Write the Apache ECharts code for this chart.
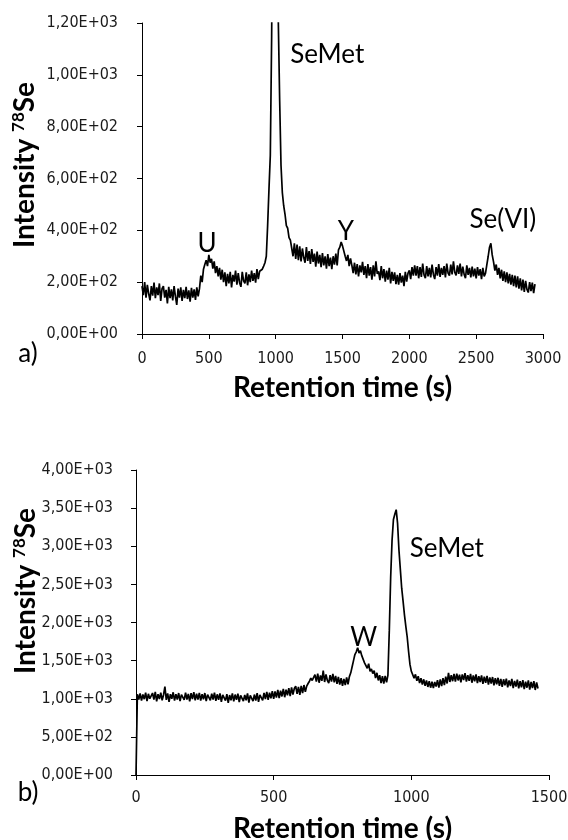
<!DOCTYPE html>
<html>
<head>
<meta charset="utf-8">
<script src="https://cdn.jsdelivr.net/npm/echarts@6/dist/echarts.min.js"></script>
<style>
html,body{margin:0;padding:0;background:#fff;}
#c{width:568px;height:840px;}
</style>
</head>
<body>
<div id="c"></div>
<script>
// ---------- Chart a) ----------
const stepA = 10;   // sampling interval (s)
const valuesA = [
  // 0-430 baseline
  185,150,200,140,190,155,130,185,148,198,
  138,180,150,195,128,175,185,140,170,118,
  182,138,172,130,185,145,112,175,140,180,
  128,170,138,182,135,168,125,178,140,172,
  132,180,145,175,
  // 440-600 peak U
  225,200,250,268,285,262,305,275,290,252,280,235,262,222,255,210,248,
  // 610-930
  200,238,185,232,195,240,180,228,202,245,
  190,235,198,182,240,205,195,238,188,230,
  200,245,205,235,198,250,212,242,238,250,
  262,275,300,
  // 940-1110 SeMet
  420,560,690,1150,1900,2500,2600,1700,1200,900,650,545,495,462,418,408,372,362,
  // 1120-1440 tail
  360,300,350,290,345,285,338,280,330,295,
  275,335,282,320,270,328,278,310,260,318,
  272,305,258,312,265,300,252,308,262,295,
  250,300,268,
  // 1450-1560 peak Y
  310,265,325,335,355,340,345,300,282,305,262,292,
  // 1570-1900
  265,235,275,230,270,222,265,238,278,228,
  262,215,270,225,258,210,265,222,280,232,
  242,208,262,215,250,202,245,210,255,195,
  240,205,238,192,
  // 1910-2040
  228,190,235,198,225,185,240,202,235,245,212,258,225,265,
  // 2050-2560
  225,262,215,258,220,272,228,215,262,222,
  255,218,268,230,212,258,225,270,220,255,
  228,262,218,272,235,225,268,230,280,238,
  226,265,232,272,222,260,230,215,265,228,
  255,218,260,222,252,215,258,225,250,212,
  255,222,
  // 2570-2660 Se(VI)
  235,268,300,335,350,305,278,245,268,228,
  // 2670-2940
  255,215,248,205,242,200,238,195,232,190,
  228,185,225,180,222,175,215,168,210,162,
  205,172,160,200,165,198,158,192
];
const yTickLabelsA = ['0,00E+00','2,00E+02','4,00E+02','6,00E+02','8,00E+02','1,00E+03','1,20E+03'];
const xTickLabelsA = ['0','500','1000','1500','2000','2500','3000'];
const annotationsA = [['U', 487, 347], ['SeMet', 1386, 1077], ['Y', 1526, 394], ['Se(VI)', 2700, 440]];

// ---------- Chart b) ----------
const stepB = 5;
const valuesB = [
  0,
  // 5-450 baseline
  1060,990,1070,975,1055,995,1080,970,1065,1000,
  985,1075,990,1090,965,1060,995,1080,980,1050,
  1160,985,1070,960,1060,1000,1085,975,1060,990,
  1075,970,1055,1070,985,1080,990,1062,965,1072,
  995,1085,980,1065,988,1078,975,1060,992,1075,
  968,1055,1070,980,1065,990,1080,972,1058,985,
  1070,960,1050,1065,975,1060,945,1048,980,1070,
  965,1055,985,1068,955,1045,1060,970,1050,980,
  1070,950,1045,1060,968,1055,975,1075,960,1050,
  // 455-630
  1065,980,1075,995,1090,985,1080,1005,1100,1000,
  1095,1015,1115,1010,1105,1030,1130,1020,1120,1045,
  1140,1035,1150,1055,1135,1165,1065,1155,1050,1170,
  1075,1180,1090,1165,1200,1230,
  // 635-775
  1270,1240,1255,1315,1225,1330,1210,1305,1235,1370,
  1220,1320,1240,1205,1310,1225,1325,1215,1300,1195,
  1285,1185,1270,1170,1260,1180,1280,1190,1290,
  // 780-915 peak W
  1340,1420,1500,1580,1615,1670,1600,1630,1565,1550,
  1470,1480,1400,1460,1360,1390,1330,1370,1270,1340,
  1240,1310,1205,1295,1200,1300,1215,1310,
  // 920-1000 SeMet
  1900,2600,3080,3350,3420,3480,3300,2950,2700,2450,2280,2100,1950,1810,1620,1450,1360,
  // 1005-1460
  1340,1270,1320,1235,1295,1205,1270,1185,1255,1170,
  1240,1155,1230,1145,1225,1140,1220,1160,1245,1145,
  1255,1165,1270,1180,1290,1200,1340,1220,1310,1230,
  1325,1225,1330,1240,1315,1215,1320,1245,1335,1225,
  1310,1235,1325,1210,1305,1230,1320,1205,1295,1220,
  1305,1195,1290,1210,1300,1185,1280,1200,1285,1175,
  1270,1190,1275,1170,1260,1155,1255,1175,1265,1150,
  1240,1165,1260,1140,1235,1160,1250,1135,1230,1150,
  1245,1125,1225,1145,1240,1120,1220,1140,1230,1115,
  1215,1135
];
const yTickLabelsB = ['0,00E+00','5,00E+02','1,00E+03','1,50E+03','2,00E+03','2,50E+03','3,00E+03','3,50E+03','4,00E+03'];
const xTickLabelsB = ['0','500','1000','1500'];
const annotationsB = [['W', 827, 1800], ['SeMet', 1129, 2975]];

const xTitle = 'Retention time (s)';
const panelLabels = ['a)', 'b)'];

// ---------- build ----------
const pairs = (vals, step) => vals.map((v, i) => [i * step, v]);
const tickFont = { fontFamily: '"DejaVu Sans Condensed", "DejaVu Sans"', fontSize: 16, color: '#1a1a1a' };
const titleFont = { fontFamily: 'Lato', fontWeight: 'bold', fontSize: 28, color: '#000' };
const annFont = { fontFamily: 'Lato', fontSize: 26, color: '#000' };
const axisLine = { show: true, lineStyle: { color: '#000', width: 1 } };
const axisTick = { show: true, length: 5, inside: false, lineStyle: { color: '#000', width: 1 } };

function mk(arr) {
  return arr.map(a => ({ name: a[0], coord: [a[1], a[2]] }));
}
const yTitleStyle = (x, y) => ({
  type: 'text', x: x, y: y, rotation: Math.PI / 2,
  style: { text: '{a|Intensity }{s|78}{a|Se}', align: 'center', verticalAlign: 'middle',
    rich: { a: { fontFamily: 'Lato', fontWeight: 'bold', fontSize: 28, fill: '#000', lineHeight: 30 },
            s: { fontFamily: 'Lato', fontWeight: 'bold', fontSize: 17, fill: '#000', verticalAlign: 'top', lineHeight: 30 } } }
});

const chart = echarts.init(document.getElementById('c'), null, { renderer: 'canvas' });
chart.setOption({
  animation: false,
  backgroundColor: '#fff',
  grid: [
    { left: 142, top: 23, width: 401, height: 311, containLabel: false, outerBoundsMode: 'none' },
    { left: 136, top: 470, width: 413, height: 305, containLabel: false, outerBoundsMode: 'none' }
  ],
  xAxis: [
    { gridIndex: 0, type: 'value', min: 0, max: 3000, interval: 500,
      axisLine, axisTick, splitLine: { show: false },
      axisLabel: Object.assign({ margin: 17, formatter: (v, i) => xTickLabelsA[i] }, tickFont),
      name: xTitle, nameLocation: 'middle', nameGap: 40, nameTextStyle: titleFont },
    { gridIndex: 1, type: 'value', min: 0, max: 1500, interval: 500,
      axisLine, axisTick, splitLine: { show: false },
      axisLabel: Object.assign({ margin: 15, formatter: (v, i) => xTickLabelsB[i] }, tickFont),
      name: xTitle, nameLocation: 'middle', nameGap: 40, nameTextStyle: titleFont }
  ],
  yAxis: [
    { gridIndex: 0, type: 'value', min: 0, max: 1200, interval: 200,
      axisLine, axisTick, splitLine: { show: false },
      axisLabel: Object.assign({ margin: 24, formatter: (v, i) => yTickLabelsA[i] }, tickFont) },
    { gridIndex: 1, type: 'value', min: 0, max: 4000, interval: 500,
      axisLine, axisTick, splitLine: { show: false },
      axisLabel: Object.assign({ margin: 23, formatter: (v, i) => yTickLabelsB[i] }, tickFont) }
  ],
  series: [
    { type: 'line', xAxisIndex: 0, yAxisIndex: 0, data: pairs(valuesA, stepA),
      showSymbol: false, clip: true, lineStyle: { color: '#000', width: 1.7 },
      markPoint: { symbol: 'circle', symbolSize: 0, silent: true,
        label: Object.assign({ show: true, position: 'inside', formatter: '{b}' }, annFont),
        data: mk(annotationsA) } },
    { type: 'line', xAxisIndex: 1, yAxisIndex: 1, data: pairs(valuesB, stepB),
      showSymbol: false, clip: true, lineStyle: { color: '#000', width: 1.7 },
      markPoint: { symbol: 'circle', symbolSize: 0, silent: true,
        label: Object.assign({ show: true, position: 'inside', formatter: '{b}' }, annFont),
        data: mk(annotationsB) } }
  ],
  graphic: [
    yTitleStyle(25, 165),
    yTitleStyle(26, 591),
    { type: 'text', x: 28, y: 354,
      style: { text: panelLabels[0], align: 'center', verticalAlign: 'middle', font: '26px Lato', fill: '#000' } },
    { type: 'text', x: 28, y: 793,
      style: { text: panelLabels[1], align: 'center', verticalAlign: 'middle', font: '26px Lato', fill: '#000' } }
  ]
});
</script>
</body>
</html>
